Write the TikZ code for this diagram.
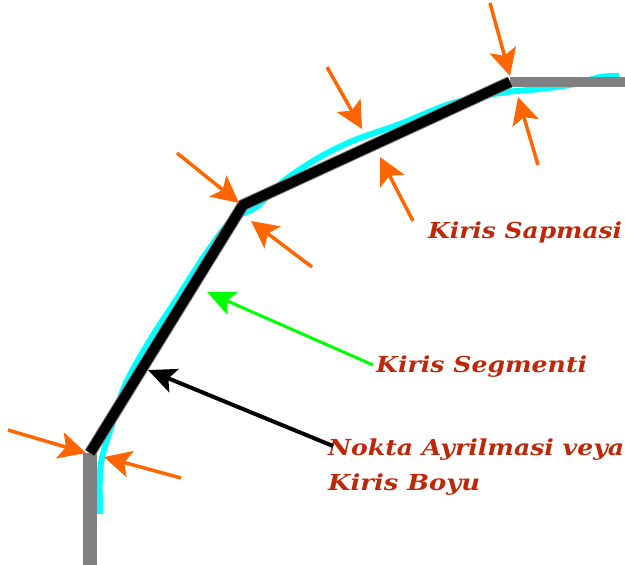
\documentclass[tikz,border=0pt]{standalone}
\usepackage{graphicx}
\usepackage{fontspec}
\setmainfont{DejaVu Serif}
\usetikzlibrary{arrows.meta}
\definecolor{lbl}{RGB}{190,40,8}
\definecolor{orng}{RGB}{255,102,0}
\definecolor{grn}{RGB}{0,255,0}
\definecolor{cyn}{RGB}{0,255,255}
\definecolor{gry}{RGB}{128,128,128}
\newcommand\fitw[2]{\resizebox{#1}{\height}{#2}}
\tikzset{
  lbltext/.style={inner sep=0pt, anchor=base west, text=lbl, font=\fontsize{22}{24}\selectfont\bfseries\itshape},
  deviation/.style={draw=orng, line width=3.5pt, -{Stealth[length=27pt,width=27pt,inset=6pt]}},
  pointer/.style={line width=#1, -{Stealth[length=28pt,width=25pt,inset=6pt]}},
}
\begin{document}
\begin{tikzpicture}[x=1pt,y=-1pt]
\useasboundingbox (0,0) rectangle (625,565);
% vertices of the chord polyline
\coordinate (v1) at (90,453);
\coordinate (v2) at (243,205);
\coordinate (v3) at (510,82);
\coordinate (b0) at (90,565);
\coordinate (t0) at (625,82);
% cyan true arc
\draw[cyn, line width=6pt] plot[smooth, tension=0.55] coordinates {
 (100,514) (100,472) (104,450) (112,425) (125,385) (150,340) (176,300) (207,252) (232,220) (256,207)
 (285,180) (320,157) (355,140) (400,124) (450,104) (500,93) (540,89) (575,84) (600,77) (619,76)};
% gray straight parts
\draw[gry, line width=14pt] (b0) -- (v1);
\draw[gry, line width=10.5pt] (v3) -- (t0);
% chord segments
\draw[gry, line width=12pt, line join=miter] (v1) -- (v2) -- (v3);
\draw[black, line width=10pt, line join=miter, shift={(1.2,1.6)}] (v1) -- (v2) -- (v3);
% labels
\node[lbltext] (sap) at (428,238) {\fitw{194pt}{Kiris Sapmasi}};
\node[lbltext] (seg) at (376,372) {\fitw{211pt}{Kiris Segmenti}};
\node[lbltext] (nok) at (328,455) {\fitw{296pt}{Nokta Ayrilmasi veya}};
\node[lbltext] (boy) at (328,490) {\fitw{152pt}{Kiris Boyu}};
% orange deviation arrows
\coordinate (o1s) at (8,430);   \coordinate (o1e) at (86,453);
\coordinate (o2s) at (181,478); \coordinate (o2e) at (104,457);
\coordinate (o3s) at (177,153); \coordinate (o3e) at (239,203);
\coordinate (o4s) at (312,267); \coordinate (o4e) at (251,221);
\coordinate (o5s) at (327,67);  \coordinate (o5e) at (362,129);
\coordinate (o6s) at (413,221); \coordinate (o6e) at (380,157);
\coordinate (o7s) at (490,3);   \coordinate (o7e) at (510,76);
\coordinate (o8s) at (538,165); \coordinate (o8e) at (518,97);
\foreach \i in {1,...,8} \draw[deviation] (o\i s) -- (o\i e);
% green and black pointers
\coordinate (gs) at (373,365); \coordinate (ge) at (207,292);
\draw[grn, pointer=3pt] (gs) -- (ge);
\coordinate (ks) at (333,446); \coordinate (ke) at (148,370);
\draw[black, pointer=4pt] (ks) -- (ke);
\end{tikzpicture}
\end{document}
